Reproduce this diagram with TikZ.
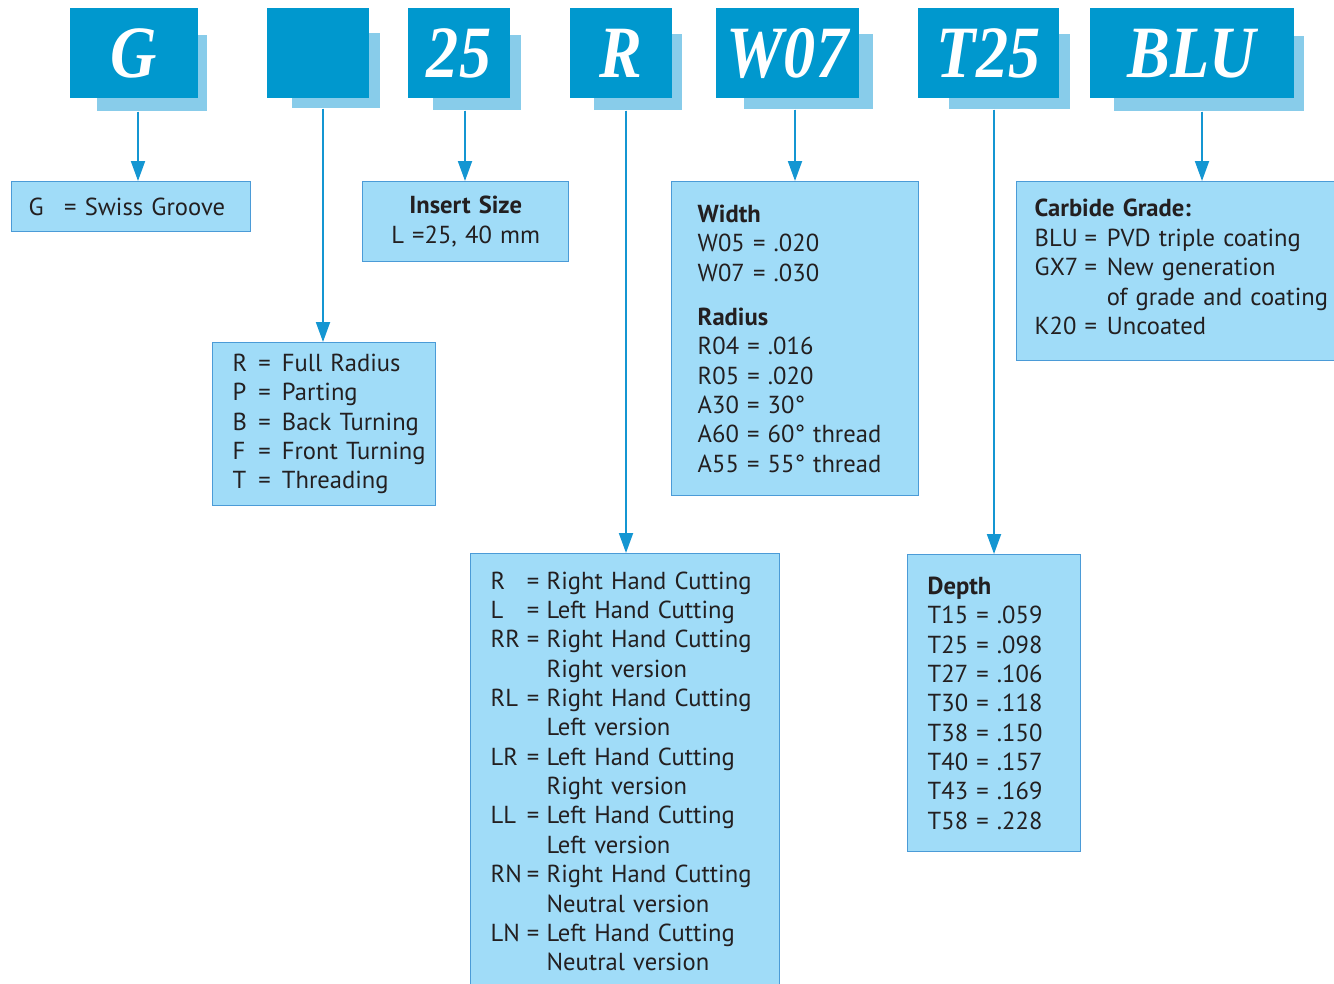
\documentclass[tikz,border=0pt]{standalone}
\usepackage{fontspec}
\setmainfont{PT Sans}
\newfontfamily\codefont[FakeStretch=0.87]{Liberation Serif}
\usetikzlibrary{arrows.meta,positioning}

\definecolor{codeblue}{RGB}{0,152,206}
\definecolor{codeshade}{RGB}{136,204,234}
\definecolor{descfill}{RGB}{160,220,248}
\definecolor{descline}{RGB}{75,155,215}
\definecolor{arrowblue}{RGB}{20,150,210}
\definecolor{inktext}{RGB}{35,31,32}

\begin{document}
\begin{tikzpicture}[
  x=0.02cm, y=-0.02cm,
  codebox/.style={fill=codeblue,minimum height=1.8cm,inner sep=0pt,text=white,
                  font=\codefont\bfseries\itshape\fontsize{42}{42}\selectfont,
                  text height=0.97cm,text depth=0pt},
  codeshadow/.style={fill=codeshade,anchor=north west,inner sep=0pt},
  desc/.style={draw=descline,fill=descfill,line width=0.8pt,anchor=north west,
               align=left,inner ysep=0pt,text=inktext,
               font=\fontsize{14}{16.7}\selectfont},
  arr/.style={-{Triangle[length=4mm,width=2.8mm]},draw=arrowblue,fill=arrowblue,line width=1.1pt}
]
\useasboundingbox (0,0) rectangle (1334,983);

% code letters along the top
\node[codeshadow,minimum width=2.2cm,minimum height=1.52cm] (gsh) at (97,35) {};
\node[codeshadow,minimum width=1.76cm,minimum height=1.5cm] (blanksh) at (292,33) {};
\node[codeshadow,minimum width=1.76cm,minimum height=1.5cm] (sizesh) at (433,35) {};
\node[codeshadow,minimum width=1.76cm,minimum height=1.52cm] (handsh) at (594,34) {};
\node[codeshadow,minimum width=2.58cm,minimum height=1.5cm] (widthsh) at (744,34) {};
\node[codeshadow,minimum width=2.42cm,minimum height=1.5cm] (depthsh) at (949,34) {};
\node[codeshadow,minimum width=3.8cm,minimum height=1.5cm] (gradesh) at (1114,36) {};

\node[codebox,minimum width=2.56cm] (g) at (134,53) {G};
\node[codebox,minimum width=2.04cm] (blank) at (318,53) {};
\node[codebox,minimum width=2.04cm] (size) at (459,53) {25};
\node[codebox,minimum width=2.04cm] (hand) at (621,53) {R};
\node[codebox,minimum width=2.86cm] (width) at (787.5,53) {W07};
\node[codebox,minimum width=2.82cm] (depth) at (988.5,53) {T25};
\node[codebox,minimum width=4.08cm] (grade) at (1192,53) {BLU};

% explanation boxes
\node[desc,text width=4.1cm,inner xsep=0.34cm,minimum height=1.0cm] (gdesc) at (11,181)
  {G\enspace\ = Swiss Groove};
\node[desc,align=center,text width=3.72cm,inner xsep=0.2cm,minimum height=1.6cm] (sizedesc) at (362,181)
  {\textbf{Insert Size}\\L =25, 40 mm};
\node[desc,text width=3.66cm,inner xsep=0.4cm,minimum height=3.26cm] (typedesc) at (212,342)
  {\begin{tabular}{@{}l@{\hspace{0.45em}}l@{\hspace{0.45em}}l@{}}
   R & = & Full Radius\\
   P & = & Parting\\
   B & = & Back Turning\\
   F & = & Front Turning\\
   T & = & Threading
   \end{tabular}};
\node[desc,text width=5.38cm,inner xsep=0.4cm,inner ysep=0.3cm] (handdesc) at (470,553)
  {\begin{tabular}{@{}l@{\hspace{0.2em}}l@{\hspace{0.3em}}l@{}}
   R & = & Right Hand Cutting\\
   L & = & Left Hand Cutting\\
   RR & = & Right Hand Cutting\\
      &   & Right version\\
   RL & = & Right Hand Cutting\\
      &   & Left version\\
   LR & = & Left Hand Cutting\\
      &   & Right version\\
   LL & = & Left Hand Cutting\\
      &   & Left version\\
   RN & = & Right Hand Cutting\\
      &   & Neutral version\\
   LN & = & Left Hand Cutting\\
      &   & Neutral version
   \end{tabular}};
\node[desc,text width=3.9cm,inner xsep=0.52cm,minimum height=6.28cm] (widthdesc) at (671,181)
  {\textbf{Width}\\
   W05 = .020\\
   W07 = .030\\[0.3cm]
   \textbf{Radius}\\
   R04 = .016\\
   R05 = .020\\
   A30 = 30°\\
   A60 = 60° thread\\
   A55 = 55° thread};
\node[desc,text width=2.66cm,inner xsep=0.4cm,minimum height=5.94cm] (depthdesc) at (907,554)
  {\textbf{Depth}\\
   T15 = .059\\
   T25 = .098\\
   T27 = .106\\
   T30 = .118\\
   T38 = .150\\
   T40 = .157\\
   T43 = .169\\
   T58 = .228};
\node[desc,text width=5.88cm,inner xsep=0.36cm,minimum height=3.58cm] (gradedesc) at (1016,181)
  {\textbf{Carbide Grade:}\\[0.14cm]
   \begin{tabular}{@{}l@{\hspace{0.25em}}l@{\hspace{0.4em}}l@{}}
   BLU & = & PVD triple coating\\
   GX7 & = & New generation\\
       &   & of grade and coating\\
   K20 & = & Uncoated
   \end{tabular}};

% connectors
\draw[arr] ([xshift=0.08cm]g.south |- gsh.south) -- ([xshift=0.08cm]g.south |- gdesc.north);
\draw[arr] ([xshift=0.1cm]blank.south |- blanksh.south) -- ([xshift=0.1cm]blank.south |- typedesc.north);
\draw[arr] ([xshift=0.12cm]size.south |- sizesh.south) -- ([xshift=0.12cm]size.south |- sizedesc.north);
\draw[arr] ([xshift=0.1cm]hand.south |- handsh.south) -- ([xshift=0.1cm]hand.south |- handdesc.north);
\draw[arr] ([xshift=0.15cm]width.south |- widthsh.south) -- ([xshift=0.15cm]width.south |- widthdesc.north);
\draw[arr] ([xshift=0.11cm]depth.south |- depthsh.south) -- ([xshift=0.11cm]depth.south |- depthdesc.north);
\draw[arr] ([xshift=0.2cm]grade.south |- gradesh.south) -- ([xshift=0.2cm]grade.south |- gradedesc.north);
\end{tikzpicture}
\end{document}
